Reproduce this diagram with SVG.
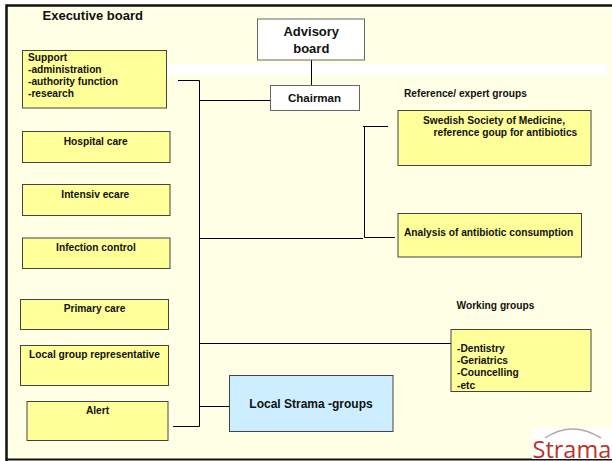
<svg xmlns="http://www.w3.org/2000/svg" width="612" height="461" viewBox="0 0 612 461">
<style>
text{font-family:"Liberation Sans",Arial,sans-serif;font-weight:bold;font-size:10.200px;fill:#111}
.b{fill:#ffff99;stroke:#444;stroke-width:1}
.w{fill:#fff;stroke:#666;stroke-width:1}
.c{text-anchor:middle}
#connectors path{fill:none;stroke:#000;stroke-width:1}
</style>
<rect width="612" height="461" fill="#fff"/>
<rect x="6" y="5" width="606" height="455" fill="#ffffe6"/>
<rect x="167" y="64" width="440" height="11" fill="#fff"/>
<path d="M6.500 461V5.500H612" fill="none" stroke="#111" stroke-width="2.500"/>
<path d="M6 459.500H612" fill="none" stroke="#111" stroke-width="2"/>
<text x="42.500" y="20" style="font-size:13px">Executive board</text>
<g id="connectors">
<path d="M178 80.500H199.500V426.500H173"/>
<path d="M199.500 100.500H270"/>
<path d="M311.500 60V85"/>
<path d="M199.500 238.500H363"/>
<path d="M363 126.500H388M364.500 126.500V237.500H395"/>
<path d="M199.500 343.500H451"/>
<path d="M199.500 406.500H229.500"/>
</g>
<g id="advisory"><rect class="w" x="257.500" y="19" width="107" height="41"/><text class="c" x="311.300" y="36" style="font-size:13px">Advisory</text><text class="c" x="311.300" y="53" style="font-size:13px">board</text></g>
<g id="chairman"><rect class="w" x="270.500" y="85.500" width="89" height="25"/><text class="c" x="314.500" y="102" style="font-size:11.500px">Chairman</text></g>
<g id="support"><rect class="b" x="22.500" y="50.500" width="144" height="57.500"/><text x="28" y="61">Support</text><text x="28" y="73">-administration</text><text x="28" y="85">-authority function</text><text x="28" y="97">-research</text></g>
<g id="hospital"><rect class="b" x="22.500" y="131.500" width="147.500" height="31"/><text class="c" x="95.700" y="145">Hospital care</text></g>
<g id="intensive"><rect class="b" x="22.500" y="184.500" width="147.500" height="31"/><text class="c" x="95.300" y="198">Intensiv ecare</text></g>
<g id="infection"><rect class="b" x="22.500" y="238" width="147.500" height="30.500"/><text class="c" x="96" y="251">Infection control</text></g>
<g id="primary"><rect class="b" x="20.500" y="299.500" width="148" height="30"/><text class="c" x="94.500" y="312">Primary care</text></g>
<g id="localrep"><rect class="b" x="20.500" y="345.500" width="148" height="40"/><text class="c" x="94.500" y="358">Local group representative</text></g>
<g id="alert"><rect class="b" x="27" y="401.500" width="141" height="39"/><text class="c" x="97.500" y="414">Alert</text></g>
<g id="localstrama"><rect x="229.500" y="375.500" width="163.500" height="56" fill="#cceeff" stroke="#444"/><text class="c" x="311" y="408" style="font-size:12px">Local Strama -groups</text></g>
<text x="404" y="97">Reference/ expert groups</text>
<g id="swedish"><rect class="b" x="398" y="110.500" width="193" height="55"/><text x="423" y="124">Swedish Society of Medicine,</text><text x="433.500" y="136">reference goup for antibiotics</text></g>
<g id="analysis"><rect class="b" x="398" y="213.500" width="183.500" height="43.500"/><text x="404" y="236">Analysis of antibiotic consumption</text></g>
<text x="456.500" y="309">Working groups</text>
<g id="working"><rect class="b" x="451" y="329.500" width="140" height="62"/><text x="457" y="352">-Dentistry</text><text x="457" y="364">-Geriatrics</text><text x="457" y="376">-Councelling</text><text x="457" y="389">-etc</text></g>
<g id="logo"><rect x="532" y="428" width="80" height="31" fill="#fff"/><path d="M545 438Q572 420 601 438" fill="none" stroke="#aaa" stroke-width="1.500"/><text x="532.500" y="458" style="font-family:'Open Sans','Liberation Sans',sans-serif;font-weight:normal;font-size:23.500px;fill:#b8332a">Strama</text></g>
</svg>
